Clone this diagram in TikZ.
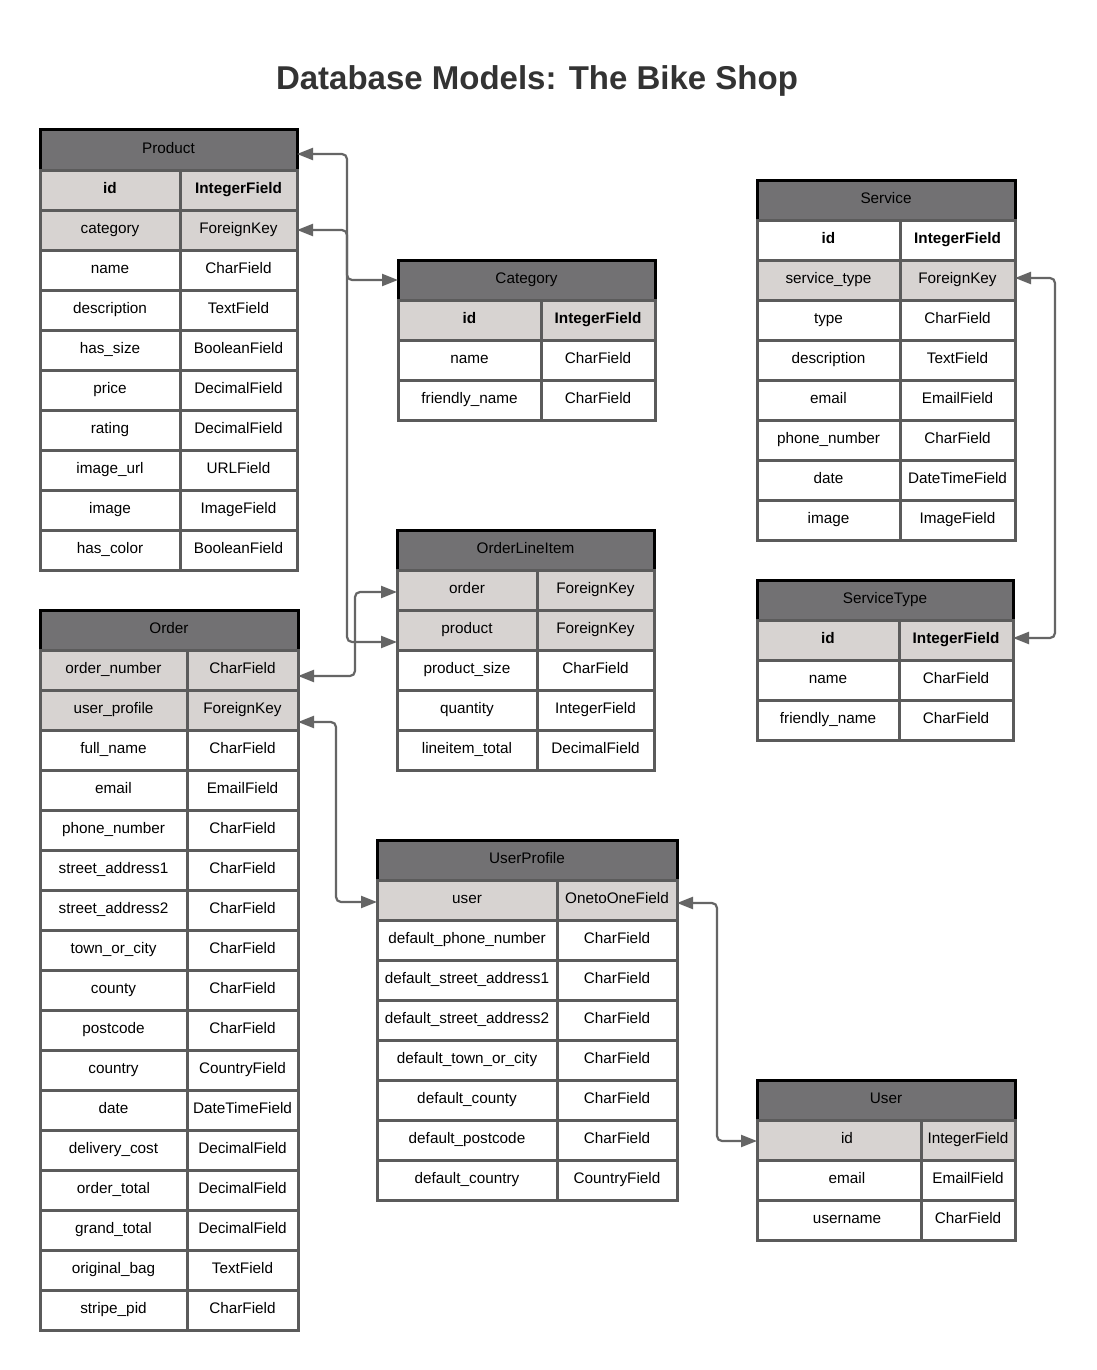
\documentclass[tikz,border=0pt]{standalone}
\usepackage{fontspec}
\setmainfont{Liberation Sans}
\usetikzlibrary{arrows.meta}

\definecolor{headfill}{HTML}{727173}
\definecolor{hlfill}{HTML}{D7D3D1}
\definecolor{cellline}{HTML}{5B5B5B}
\definecolor{linkline}{HTML}{656565}
\definecolor{titlecol}{HTML}{333333}

\newcommand{\cellfont}{\fontsize{15.3}{18}\selectfont}
\newcommand{\fieldpad}{}

% table header: name, title, left x, divider x, right x, top y
\newcommand{\modelhead}[6]{%
  \def\TN{#1}\def\TL{#3}\def\TD{#4}\def\TR{#5}\def\TY{#6}%
  \node[headcell, minimum width={#5-#3}, anchor=north west] (#1) at (#3,#6) {#2};%
}
% table row: index, field, type, extra style
\newcommand{\fieldrow}[4]{%
  \pgfmathsetmacro\RY{\TY+40*#1}%
  \node[cell,#4, minimum width={\TD-\TL}, anchor=north west] (\TN-f#1) at (\TL,\RY) {\fieldpad#2};%
  \node[cell,#4, minimum width={\TR-\TD}, anchor=north west] (\TN-t#1) at (\TD,\RY) {#3};%
}

\begin{document}
\begin{tikzpicture}[x=1pt,y=-1pt,
  textbox/.style={text height=11pt, text depth=3.5pt, minimum height=40pt,
    inner sep=0pt, outer sep=0pt, font=\cellfont},
  headcell/.style={textbox, draw=black, line width=3pt, fill=headfill, text=black},
  cell/.style={textbox, draw=cellline, line width=3pt, fill=white, text=black},
  hlrow/.style={fill=hlfill},
  keyrow/.style={font=\cellfont\bfseries},
  link/.style={draw=linkline, line width=2.2pt, rounded corners=5pt,
    {Triangle[length=16pt,width=12pt]}-{Triangle[length=16pt,width=12pt]}}]

\fill[white] (0,0) rectangle (1096,1370);
\useasboundingbox (0,0) rectangle (1096,1370);

\node[font=\fontsize{33}{40}\selectfont\bfseries, text=titlecol] (title) at (537,81)
  {Database Models: The Bike Shop};

% Product
\modelhead{product}{Product}{40}{180}{297}{130}
\fieldrow{1}{id}{IntegerField}{hlrow,keyrow}
\fieldrow{2}{category}{ForeignKey}{hlrow}
\fieldrow{3}{name}{CharField}{}
\fieldrow{4}{description}{TextField}{}
\fieldrow{5}{has\_size}{BooleanField}{}
\fieldrow{6}{price}{DecimalField}{}
\fieldrow{7}{rating}{DecimalField}{}
\fieldrow{8}{image\_url}{URLField}{}
\fieldrow{9}{image}{ImageField}{}
\fieldrow{10}{has\_color}{BooleanField}{}

% Category
\modelhead{category}{Category}{398}{541}{655}{260}
\fieldrow{1}{id}{IntegerField}{hlrow,keyrow}
\fieldrow{2}{name}{CharField}{}
\fieldrow{3}{friendly\_name}{CharField}{}

% Service
\modelhead{service}{Service}{757}{900}{1015}{180}
\fieldrow{1}{id}{IntegerField}{keyrow}
\fieldrow{2}{service\_type}{ForeignKey}{hlrow}
\fieldrow{3}{type}{CharField}{}
\fieldrow{4}{description}{TextField}{}
\fieldrow{5}{email}{EmailField}{}
\fieldrow{6}{phone\_number}{CharField}{}
\fieldrow{7}{date}{DateTimeField}{}
\fieldrow{8}{image}{ImageField}{}

% ServiceType
\modelhead{servicetype}{ServiceType}{757}{899}{1013}{580}
\fieldrow{1}{id}{IntegerField}{hlrow,keyrow}
\fieldrow{2}{name}{CharField}{}
\fieldrow{3}{friendly\_name}{CharField}{}

% OrderLineItem
\modelhead{lineitem}{OrderLineItem}{397}{537}{654}{530}
\fieldrow{1}{order}{ForeignKey}{hlrow}
\fieldrow{2}{product}{ForeignKey}{hlrow}
\fieldrow{3}{product\_size}{CharField}{}
\fieldrow{4}{quantity}{IntegerField}{}
\fieldrow{5}{lineitem\_total}{DecimalField}{}

% Order
\modelhead{order}{Order}{40}{187}{298}{610}
\fieldrow{1}{order\_number}{CharField}{hlrow}
\fieldrow{2}{user\_profile}{ForeignKey}{hlrow}
\fieldrow{3}{full\_name}{CharField}{}
\fieldrow{4}{email}{EmailField}{}
\fieldrow{5}{phone\_number}{CharField}{}
\fieldrow{6}{street\_address1}{CharField}{}
\fieldrow{7}{street\_address2}{CharField}{}
\fieldrow{8}{town\_or\_city}{CharField}{}
\fieldrow{9}{county}{CharField}{}
\fieldrow{10}{postcode}{CharField}{}
\fieldrow{11}{country}{CountryField}{}
\fieldrow{12}{date}{DateTimeField}{}
\fieldrow{13}{delivery\_cost}{DecimalField}{}
\fieldrow{14}{order\_total}{DecimalField}{}
\fieldrow{15}{grand\_total}{DecimalField}{}
\fieldrow{16}{original\_bag}{TextField}{}
\fieldrow{17}{stripe\_pid}{CharField}{}

% UserProfile
\modelhead{userprofile}{UserProfile}{377}{557}{677}{840}
\fieldrow{1}{user}{OnetoOneField}{hlrow}
\fieldrow{2}{default\_phone\_number}{CharField}{}
\fieldrow{3}{default\_street\_address1}{CharField}{}
\fieldrow{4}{default\_street\_address2}{CharField}{}
\fieldrow{5}{default\_town\_or\_city}{CharField}{}
\fieldrow{6}{default\_county}{CharField}{}
\fieldrow{7}{default\_postcode}{CharField}{}
\fieldrow{8}{default\_country}{CountryField}{}

% User (field names sit a little right of centre)
\renewcommand{\fieldpad}{\hspace*{16pt}}
\modelhead{user}{User}{757}{921}{1015}{1080}
\fieldrow{1}{id}{IntegerField}{hlrow}
\fieldrow{2}{email}{EmailField}{}
\fieldrow{3}{username}{CharField}{}

% vertical routing lanes
\coordinate (laneA) at (347,0);
\coordinate (laneB) at (355,0);
\coordinate (laneC) at (336,0);
\coordinate (laneD) at (717,0);
\coordinate (laneE) at (1055,0);

% relations
\coordinate (pHead) at ([yshift=-4pt]product.east);
\coordinate (liProd) at ([yshift=-12pt]lineitem-f2.west);
\draw[link] (pHead) -- (pHead -| laneA) -- (laneA |- liProd) -- (liProd);

\draw[link] (product-t2.east) -- (product-t2.east -| laneA) -- (laneA |- category.west) -- (category.west);

\coordinate (oNum) at ([yshift=-6pt]order-t1.east);
\coordinate (liOrder) at ([yshift=-2pt]lineitem-f1.west);
\draw[link] (oNum) -- (oNum -| laneB) -- (laneB |- liOrder) -- (liOrder);

\coordinate (oProf) at ([yshift=-12pt]order-t2.east);
\coordinate (upUser) at ([yshift=-2pt]userprofile-f1.west);
\draw[link] (oProf) -- (oProf -| laneC) -- (laneC |- upUser) -- (upUser);

\coordinate (upRight) at ([yshift=-3pt]userprofile-t1.east);
\coordinate (uId) at ([yshift=-1pt]user-f1.west);
\draw[link] (upRight) -- (upRight -| laneD) -- (laneD |- uId) -- (uId);

\coordinate (sType) at ([yshift=2pt]service-t2.east);
\coordinate (stId) at ([yshift=2pt]servicetype-t1.east);
\draw[link] (sType) -- (sType -| laneE) -- (laneE |- stId) -- (stId);

\end{tikzpicture}
\end{document}
